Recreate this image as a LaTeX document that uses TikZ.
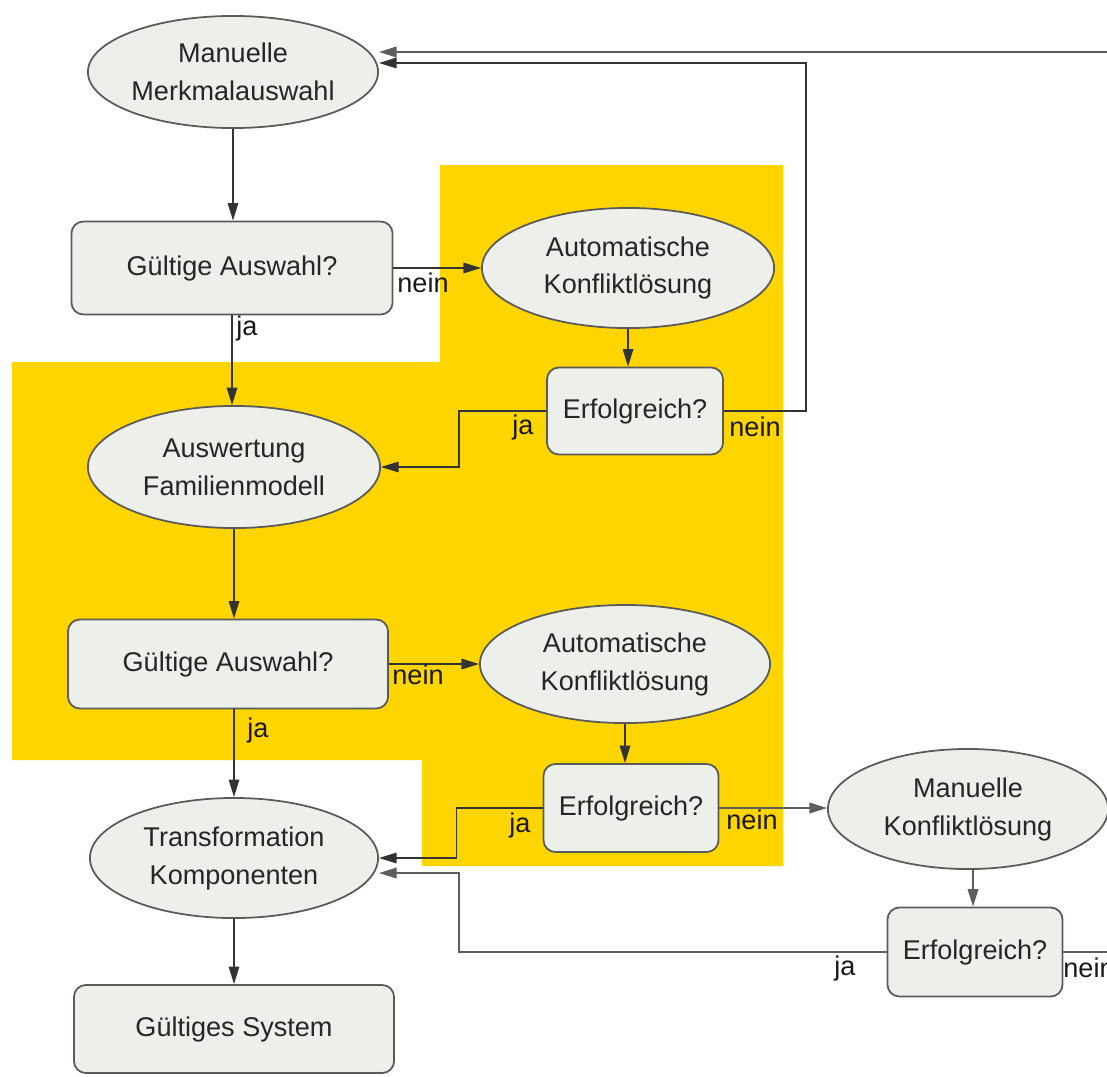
\documentclass[tikz,border=0pt]{standalone}
\usepackage{fontspec}
\setmainfont{Liberation Sans}
\usetikzlibrary{shapes.geometric,arrows.meta}
\definecolor{nodefill}{HTML}{EDEFEB}
\definecolor{nodeline}{HTML}{5A5A5A}
\definecolor{areayellow}{HTML}{FFD500}
\definecolor{linegray}{HTML}{5E5E5E}
\tikzset{
  lbl/.style={font=\fontsize{7.7}{10.8}\selectfont, inner sep=0pt, text=black!90},
  ellnode/.style={ellipse, draw=nodeline, fill=nodefill, line width=0.5pt, inner sep=0pt,
    align=center, font=\fontsize{7.7}{10.8}\selectfont, text=black!85},
  boxnode/.style={rectangle, rounded corners=0.12cm, draw=nodeline, fill=nodefill, line width=0.5pt,
    inner sep=0pt, align=center, font=\fontsize{7.7}{10.8}\selectfont, text=black!85},
  arr/.style={draw=black!80, line width=0.4pt, -{Triangle[length=5pt,width=3pt]}},
  arrgray/.style={draw=linegray, line width=0.55pt, -{Triangle[length=5pt,width=3pt]}},
}
\begin{document}
\begin{tikzpicture}[x=0.01cm,y=-0.01cm]
\useasboundingbox (0,0) rectangle (1107,1076);
\clip (0,0) rectangle (1107,1076);
% yellow area
\fill[areayellow] (440,165) -- (783,165) -- (783,866) -- (422,866) -- (422,760)
  -- (12,760) -- (12,362) -- (440,362) -- cycle;
% nodes
\node[ellnode, minimum width=2.9cm, minimum height=1.12cm] (e1) at (233,72) {Manuelle\\Merkmalauswahl};
\node[boxnode, minimum width=3.21cm, minimum height=0.93cm] (r1) at (232,268) {Gültige Auswahl?};
\node[ellnode, minimum width=2.92cm, minimum height=1.2cm] (e2) at (628,268) {Automatische\\Konfliktlösung};
\node[boxnode, minimum width=1.76cm, minimum height=0.87cm] (r2) at (635,411) {Erfolgreich?};
\node[ellnode, minimum width=2.92cm, minimum height=1.22cm] (e3) at (234,467) {Auswertung\\Familienmodell};
\node[boxnode, minimum width=3.2cm, minimum height=0.89cm] (r3) at (228,664) {Gültige Auswahl?};
\node[ellnode, minimum width=2.9cm, minimum height=1.18cm] (e4) at (625,664) {Automatische\\Konfliktlösung};
\node[boxnode, minimum width=1.75cm, minimum height=0.88cm] (r4) at (631,808) {Erfolgreich?};
\node[ellnode, minimum width=2.88cm, minimum height=1.2cm] (e5) at (234,858) {Transformation\\Komponenten};
\node[boxnode, minimum width=3.2cm, minimum height=0.88cm] (r5) at (234,1029) {Gültiges System};
\node[ellnode, minimum width=2.8cm, minimum height=1.2cm] (e6) at (968,809) {Manuelle\\Konfliktlösung};
\node[boxnode, minimum width=1.75cm, minimum height=0.89cm] (r6) at (975,952) {Erfolgreich?};
% connectors
\draw[arr] (e1.south) -- (e1.south |- r1.north);
\draw[arr] (r1.east) -- (e2.west);
\draw[arr] (r1.south) -- (r1.south |- e3.north);
\draw[arr] (e2.south) -- (e2.south |- r2.north);
\draw[arr] (r2.east) -- ++(82,0) |- (e1.east |- 0,63);
\draw[arr] (r2.west) -- ++(-87,0) |- (e3.east);
\draw[arr] (e3.south) -- (e3.south |- r3.north);
\draw[arr] (r3.east) -- (e4.west);
\draw[arr] (e5.north |- r3.south) -- (e5.north);
\draw[arr] (e4.south) -- (e4.south |- r4.north);
\draw[arr] (r4.west) -- ++(-86,0) |- (e5.east);
\draw[arrgray] (r4.east) -- (r4.east -| e6.west);
\draw[arr] (e5.south) -- (e5.south |- r5.north);
\draw[arrgray] (e6.south -| r6.north) ++(-2,0) coordinate (e6b) (e6b) -- (e6b |- r6.north);
\draw[arrgray] (r6.west) -- ++(-428,0) |- (e5.east |- 0,873);
\draw[arrgray] (r6.east) -- ++(150,0) |- (e1.east |- 0,52);
% labels
\node[lbl] (l1) at (423,283) {nein};
\node[lbl] (l2) at (247,328) {ja};
\node[lbl] (l3) at (755,427) {nein};
\node[lbl] (l4) at (523,427) {ja};
\node[lbl] (l5) at (418,675) {nein};
\node[lbl] (l6) at (258,730) {ja};
\node[lbl] (l7) at (520,825) {ja};
\node[lbl] (l8) at (752,820) {nein};
\node[lbl] (l9) at (845,968) {ja};
\node[lbl] (l10) at (1089,968) {nein};
\end{tikzpicture}
\end{document}
